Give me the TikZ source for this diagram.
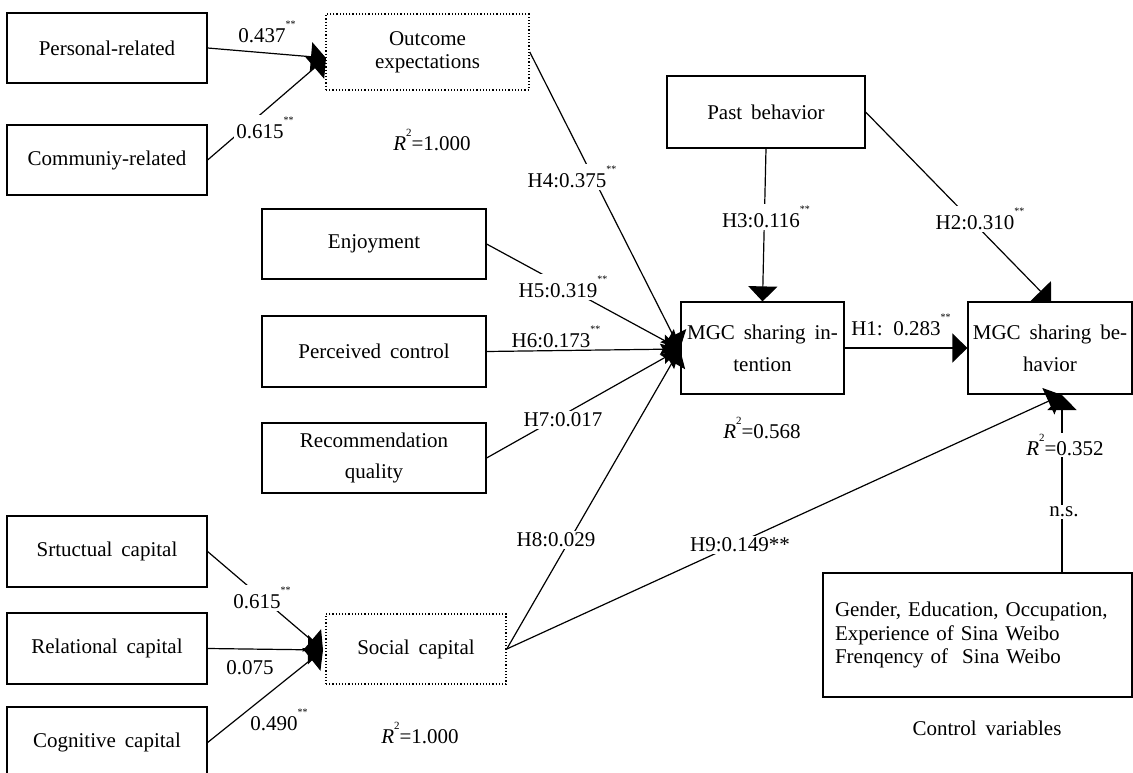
\documentclass[tikz,border=0pt]{standalone}
\usepackage{fontspec}
\setmainfont{Liberation Serif}[WordSpace=1.7]
\usetikzlibrary{arrows.meta}
\newcommand\sig{\raisebox{0.72em}{\fontsize{10}{10}\selectfont **}}
\newcommand\Rsq{\textit{R}\raisebox{0.62em}{\fontsize{11}{11}\selectfont 2}}
\tikzset{
  box/.style={draw, line width=1.2pt, inner sep=0pt, align=center},
  dbox/.style={box, dotted, line width=1.5pt},
  link/.style={line width=1.2pt},
  arr/.style={link, -{Triangle[length=15pt,width=29pt]}},
  lab/.style={inner sep=1pt},
  wlab/.style={lab, fill=white, inner sep=2pt},
}
\begin{document}
\begin{tikzpicture}[x=1pt,y=-1pt,font=\fontsize{21}{24}\selectfont]
\useasboundingbox[fill=white] (0,0) rectangle (1133,773);
% boxes
\node[box, minimum width=200pt, minimum height=70pt] (pers) at (107,48) {Personal-related};
\node[box, minimum width=200pt, minimum height=70pt] (comm) at (107,160) {Communiy-related};
\node[dbox, minimum width=203pt, minimum height=76pt, font=\fontsize{21}{23}\selectfont] (outc) at (427.5,52) {Outcome\\expectations};
\node[box, minimum width=224pt, minimum height=70pt] (enjoy) at (374,244) {Enjoyment};
\node[box, minimum width=224pt, minimum height=71pt] (pcont) at (374,351.5) {Perceived control};
\node[box, minimum width=224pt, minimum height=70pt, font=\fontsize{21}{31}\selectfont] (recq) at (374,458) {Recommendation\\quality};
\node[box, minimum width=200pt, minimum height=71pt] (struc) at (107,551.5) {Srtuctual capital};
\node[box, minimum width=200pt, minimum height=71pt] (relc) at (107,648.5) {Relational capital};
\node[box, minimum width=200pt, minimum height=71pt] (cogc) at (107,742.5) {Cognitive capital};
\node[dbox, minimum width=180pt, minimum height=70pt] (soc) at (416,649) {Social capital};
\node[box, minimum width=198pt, minimum height=72pt] (past) at (766,112) {Past behavior};
\node[box, minimum width=163pt, minimum height=92pt, font=\fontsize{21}{32}\selectfont] (intent) at (762.5,348) {MGC sharing in-\\tention};
\node[box, minimum width=164pt, minimum height=92pt, font=\fontsize{21}{32}\selectfont] (behav) at (1050,348) {MGC sharing be-\\havior};
\node[box, minimum height=124pt, text width=285pt, inner xsep=12pt, align=left, font=\fontsize{21}{23.5}\selectfont] (ctrl) at (977.5,635) {Gender, Education, Occupation,\\Experience of Sina Weibo\\Frenqency of\ \ Sina Weibo};
\node[lab] (ctrllab) at (987,728) {Control variables};
% tip coordinates
\coordinate (tO) at (326,58);
\coordinate (tI) at (680,349);
\coordinate (tS) at (323,650);
\coordinate (tBt) at (1051,302);
\coordinate (tBb) at (1062,395);
% connectors
\draw[arr] (pers.east) -- (tO);
\draw[arr] (comm.east) -- (tO);
\draw[arr] (outc.east) -- (tI);
\draw[arr] (enjoy.east) -- (tI);
\draw[arr] (pcont.east) -- (tI);
\draw[arr] (recq.east) -- (tI);
\draw[arr] (soc.east) -- (tI);
\draw[arr] (soc.east) -- (tBb);
\draw[arr] (struc.east) -- (tS);
\draw[arr] (relc.east) -- (tS);
\draw[arr] (cogc.east) -- (tS);
\draw[arr] (past.south) -- (intent.north);
\draw[arr] (past.east) -- (tBt);
\draw[arr] (intent.east) -- (behav.west);
\draw[arr] (ctrl.north -| tBb) -- (tBb);
% labels
\node[lab] (l437) at (267,32) {0.437\sig};
\node[wlab] (l615a) at (265,128) {0.615\sig};
\node[lab] (r2a) at (432,140) {\Rsq=1.000};
\node[wlab] (lh4) at (572,177) {H4:0.375\sig};
\node[wlab] (lh5) at (563,287) {H5:0.319\sig};
\node[lab] (lh6) at (556,337) {H6:0.173\sig};
\node[wlab] (lh7) at (563,420) {H7:0.017};
\node[wlab] (lh8) at (556,540) {H8:0.029};
\node[wlab] (lh9) at (740,545) {H9:0.149**};
\node[wlab] (lh3) at (766,217) {H3:0.116\sig};
\node[wlab] (lh2) at (980,219) {H2:0.310\sig};
\node[lab] (lh1) at (901,325) {H1: 0.283\sig};
\node[lab] (r2i) at (762,428) {\Rsq=0.568};
\node[wlab] (r2b) at (1065,445) {\Rsq=0.352};
\node[wlab] (ns) at (1064,512) {n.s.};
\node[wlab] (l615b) at (262,598) {0.615\sig};
\node[lab] (l075) at (250,668) {0.075};
\node[lab] (l490) at (279,720) {0.490\sig};
\node[lab] (r2s) at (420,733) {\Rsq=1.000};
\end{tikzpicture}
\end{document}
